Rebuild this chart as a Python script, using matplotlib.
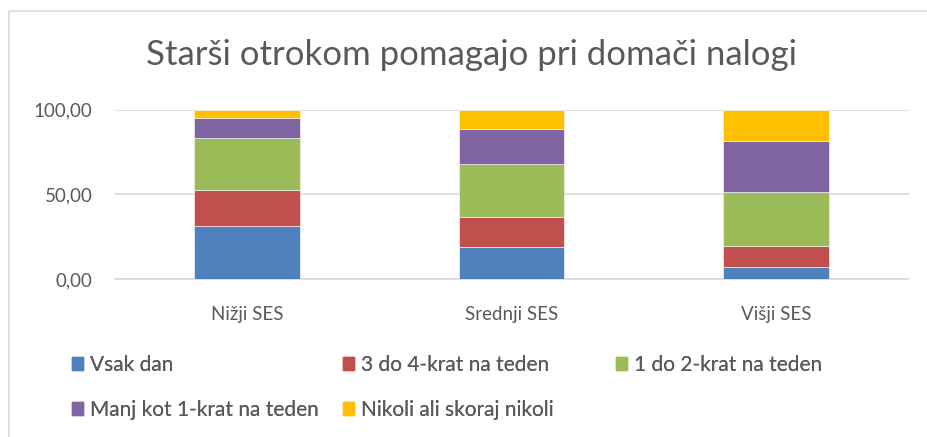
import matplotlib

matplotlib.use("Agg")

import matplotlib.pyplot as plt
from matplotlib.patches import Patch, Rectangle

plt.rcParams["font.family"] = ["Lato", "DejaVu Sans"]

categories = ["Nižji SES", "Srednji SES", "Višji SES"]
series_names = [
    "Vsak dan",
    "3 do 4-krat na teden",
    "1 do 2-krat na teden",
    "Manj kot 1-krat na teden",
    "Nikoli ali skoraj nikoli",
]
vsak_dan = [31.2, 18.9, 7.3]
krat_3_4 = [21.6, 18.0, 12.5]
krat_1_2 = [30.3, 31.3, 31.7]
manj_kot_1 = [12.2, 20.4, 29.9]
nikoli = [4.7, 11.4, 18.6]
y_ticks = [0, 50, 100]
y_tick_labels = ["0,00", "50,00", "100,00"]

colors = ["#4f81bd", "#c0504d", "#9bbb59", "#8064a2", "#ffc000"]
text_color = "#595959"

W, H = 927, 437
fig = plt.figure(figsize=(W / 100, H / 100), dpi=100)
ax = fig.add_axes([114.5 / W, 1 - 279.3 / H, (908.5 - 114.5) / W, (279.3 - 109.7) / H])

# chart border
fig.add_artist(Rectangle((9 / W, -0.1), 1.2, 1 - 11 / H + 0.1, transform=fig.transFigure,
                         fill=False, edgecolor="#d9d9d9", linewidth=1.2))

x = range(len(categories))
bottom = [0.0] * len(categories)
all_series = [vsak_dan, krat_3_4, krat_1_2, manj_kot_1, nikoli]
for vals, name, c in zip(all_series, series_names, colors):
    ax.bar(x, vals, width=0.4, bottom=bottom, color=c, label=name,
           edgecolor="white", linewidth=0.4, zorder=3)
    bottom = [b + v for b, v in zip(bottom, vals)]

ax.set_xlim(-0.5, 2.5)
ax.set_ylim(0, 100)
ax.set_yticks(y_ticks)
ax.set_yticklabels(y_tick_labels)
ax.set_xticks(list(x))
ax.set_xticklabels(categories)
ax.tick_params(axis="both", length=0, labelsize=13.5, colors=text_color)
ax.tick_params(axis="y", pad=16)
ax.tick_params(axis="x", pad=19)
ax.grid(axis="y", color="#d9d9d9", linewidth=1.2, zorder=0)
for s in ["top", "right", "left"]:
    ax.spines[s].set_visible(False)
ax.spines["bottom"].set_color("#d9d9d9")
ax.spines["bottom"].set_linewidth(1.2)

fig.text(472 / W, 1 - 55 / H, "Starši otrokom pomagajo pri domači nalogi",
         ha="center", va="center", fontsize=25, color=text_color)

# legend entries laid out like the original
legend_pos = [(72, 365), (343, 365), (616, 365), (72, 410), (343, 410)]
for name, c, (px, py) in zip(series_names, colors, legend_pos):
    leg = fig.legend(handles=[Patch(color=c)], labels=[name], loc="center left",
                     bbox_to_anchor=(px / W, 1 - py / H), frameon=False,
                     fontsize=15, handlelength=0.55, handleheight=0.55,
                     handletextpad=0.3, borderpad=0, borderaxespad=0)
    for t in leg.get_texts():
        t.set_color(text_color)
    fig.add_artist(leg)

fig.savefig("out.png", dpi=100)
